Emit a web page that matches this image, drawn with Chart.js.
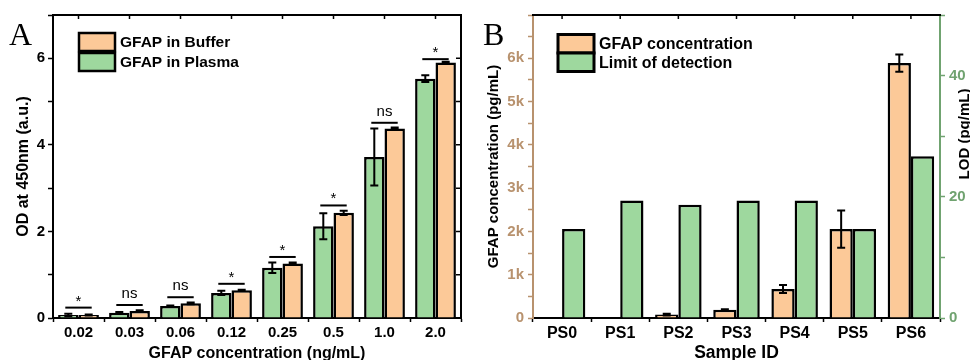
<!DOCTYPE html>
<html>
<head>
<meta charset="utf-8">
<title>GFAP ELISA</title>
<script src="https://cdn.jsdelivr.net/npm/chart.js@4"></script>
<style>
  html, body { margin: 0; padding: 0; background: #fff; }
  #wrap { position: relative; width: 970px; height: 360px; overflow: hidden; }
  #chartA { position: absolute; left: 0; top: 0; }
  #chartB { position: absolute; left: 480px; top: 0; }
</style>
</head>
<body>
<div id="wrap">
  <canvas id="chartA" width="480" height="360"></canvas>
  <canvas id="chartB" width="490" height="360"></canvas>
</div>
<script>
// Panel A: OD at 450nm vs GFAP concentration
const concLabels = ['0.02', '0.03', '0.06', '0.12', '0.25', '0.5', '1.0', '2.0'];
const plasmaOD = [0.07, 0.12, 0.28, 0.58, 1.16, 2.12, 3.72, 5.53];
const plasmaErr = [0.03, 0.02, 0.01, 0.05, 0.12, 0.30, 0.66, 0.08];
const bufferOD = [0.07, 0.16, 0.34, 0.64, 1.26, 2.43, 4.38, 5.90];
const bufferErr = [0.01, 0.02, 0.02, 0.01, 0.02, 0.05, 0.02, 0.02];
const sigMarks = ['*', 'ns', 'ns', '*', '*', '*', 'ns', '*'];
const sigLevels = [0.24, 0.30, 0.48, 0.79, 1.41, 2.60, 4.51, 5.98];

// Panel B: samples
const sampleIds = ['PS0', 'PS1', 'PS2', 'PS3', 'PS4', 'PS5', 'PS6'];
const gfapConc = [0, 0, 80, 190, 670, 2055, 5890];
const gfapErr = [0, 0, 20, 15, 95, 430, 200];
const lodValues = [14.7, 19.4, 18.7, 19.4, 19.4, 14.7, 26.7];

const orange = 'rgb(252, 201, 152)';
const green = 'rgb(158, 216, 158)';
const tan = 'rgb(184, 146, 110)';
const darkGreen = 'rgb(112, 163, 112)';
const SANS = '"Liberation Sans", Arial, sans-serif';

Chart.defaults.font.family = SANS;
Chart.defaults.color = '#000';

// error bars from dataset.errorBars
const errorBarPlugin = {
    id: 'errorBars',
    afterDatasetsDraw(chart) {
        const ctx = chart.ctx;
        chart.data.datasets.forEach((ds, i) => {
            if (!ds.errorBars) return;
            const meta = chart.getDatasetMeta(i);
            const ys = chart.scales[meta.yAxisID];
            meta.data.forEach((bar, j) => {
                const e = ds.errorBars[j];
                if (!e) return;
                const v = ds.data[j];
                const y1 = ys.getPixelForValue(v + e);
                const y2 = ys.getPixelForValue(v - e);
                ctx.save();
                ctx.strokeStyle = '#000';
                ctx.lineWidth = 2;
                ctx.beginPath();
                ctx.moveTo(bar.x, y1); ctx.lineTo(bar.x, y2);
                ctx.moveTo(bar.x - 4, y1); ctx.lineTo(bar.x + 4, y1);
                ctx.moveTo(bar.x - 4, y2); ctx.lineTo(bar.x + 4, y2);
                ctx.stroke();
                ctx.restore();
            });
        });
    }
};

// significance brackets for panel A
const sigPlugin = {
    id: 'sigMarks',
    afterDatasetsDraw(chart) {
        const ctx = chart.ctx;
        const ys = chart.scales.y;
        const m0 = chart.getDatasetMeta(0), m1 = chart.getDatasetMeta(1);
        ctx.save();
        ctx.strokeStyle = '#000';
        ctx.fillStyle = '#000';
        ctx.lineWidth = 2;
        ctx.textAlign = 'center';
        ctx.textBaseline = 'alphabetic';
        ctx.font = '15px ' + SANS;
        sigMarks.forEach((mark, i) => {
            const x0 = m0.data[i].x - 3, x1 = m1.data[i].x + 3;
            const y = ys.getPixelForValue(sigLevels[i]);
            ctx.beginPath();
            ctx.moveTo(x0, y); ctx.lineTo(x1, y);
            ctx.stroke();
            ctx.fillText(mark, (x0 + x1) / 2, y - (mark === '*' ? 2 : 7));
        });
        ctx.restore();
    }
};

function legendPlugin(o) {
    return {
        id: 'boxLegend',
        afterDraw(chart) {
            const ctx = chart.ctx;
            ctx.save();
            o.order.forEach((di, k) => {
                const ds = chart.data.datasets[di];
                const y = o.y + k * o.step;
                ctx.fillStyle = ds.backgroundColor;
                ctx.fillRect(o.x, y, o.w, o.h);
                ctx.strokeStyle = '#000';
                ctx.lineWidth = o.lw;
                ctx.strokeRect(o.x, y, o.w, o.h);
                ctx.fillStyle = '#000';
                ctx.font = 'bold ' + o.size + 'px ' + SANS;
                ctx.textBaseline = 'middle';
                ctx.textAlign = 'left';
                ctx.fillText(ds.label, o.x + o.w + 5, y + o.h / 2 + 1);
            });
            ctx.restore();
        }
    };
}

// top frame line, inward ticks, panel letter
function framePlugin(o) {
    return {
        id: 'frame',
        afterDraw(chart) {
            const ctx = chart.ctx;
            const a = chart.chartArea;
            const xs = chart.scales.x;
            ctx.save();
            ctx.strokeStyle = '#000';
            ctx.lineWidth = 2;
            ctx.beginPath();
            ctx.moveTo(a.left - 1, a.top); ctx.lineTo(a.right + 1, a.top);
            if (o.rightFrame) {
                ctx.moveTo(a.right, a.top); ctx.lineTo(a.right, a.bottom);
            }
            ctx.stroke();
            ctx.lineWidth = 1.5;
            ctx.beginPath();
            xs.ticks.forEach((t, i) => {
                const x = xs.getPixelForValue(i);
                ctx.moveTo(x, a.top); ctx.lineTo(x, a.top + 4);
            });
            if (o.rightFrame) {
                chart.scales.y.ticks.forEach(t => {
                    const y = chart.scales.y.getPixelForValue(t.value);
                    ctx.moveTo(a.right, y); ctx.lineTo(a.right - 5, y);
                });
            }
            ctx.stroke();
            ctx.fillStyle = '#000';
            ctx.font = '32px "Liberation Serif", "Times New Roman", serif';
            ctx.textAlign = 'left';
            ctx.textBaseline = 'alphabetic';
            ctx.fillText(o.letter, o.lx, o.ly);
            if (o.rightTitle) {
                ctx.translate(o.rightTitle.x, o.rightTitle.y);
                ctx.rotate(-Math.PI / 2);
                ctx.font = 'bold 15px ' + SANS;
                ctx.textAlign = 'center';
                ctx.textBaseline = 'middle';
                ctx.fillText(o.rightTitle.text, 0, 0);
            }
            ctx.restore();
        }
    };
}

const barStyle = {
    borderColor: '#000',
    borderWidth: 2.5,
    barPercentage: 1.0,
    categoryPercentage: 0.8
};

new Chart(document.getElementById('chartA'), {
    type: 'bar',
    data: {
        labels: concLabels,
        datasets: [
            Object.assign({ label: 'GFAP in Plasma', data: plasmaOD, errorBars: plasmaErr, backgroundColor: green }, barStyle),
            Object.assign({ label: 'GFAP in Buffer', data: bufferOD, errorBars: bufferErr, backgroundColor: orange }, barStyle)
        ]
    },
    options: {
        responsive: false,
        animation: false,
        events: [],
        layout: { padding: { top: 15, right: 19, left: 0, bottom: 0 } },
        plugins: { legend: { display: false }, tooltip: { enabled: false } },
        scales: {
            x: {
                grid: { drawOnChartArea: false, offset: true, tickLength: 4, color: '#000', tickWidth: 1.5 },
                border: { color: '#000', width: 2 },
                ticks: { color: '#000', font: { size: 15, weight: 'bold' }, padding: 2, maxRotation: 0 },
                title: { display: true, text: 'GFAP concentration (ng/mL)', color: '#000',
                    font: { size: 16, weight: 'bold', lineHeight: 0.75 }, padding: 0 },
                afterFit: s => { s.height = 42; }
            },
            y: {
                min: 0, max: 7,
                grid: { drawOnChartArea: false, tickLength: 5, color: '#000', tickWidth: 1.5 },
                border: { color: '#000', width: 2 },
                ticks: { stepSize: 1, autoSkip: false, color: '#000', padding: 3,
                    font: { size: 15, weight: 'bold' },
                    callback: v => (v % 2 === 0 ? v : '') },
                title: { display: true, text: 'OD at 450nm (a.u.)', color: '#000',
                    font: { size: 16, weight: 'bold' }, padding: { top: 14.4, bottom: 0 } },
                afterFit: s => { s.width = 53; }
            }
        }
    },
    plugins: [errorBarPlugin, sigPlugin,
        legendPlugin({ order: [1, 0], x: 79, y: 33, w: 36, h: 18, step: 20, lw: 2.5, size: 15.5 }),
        framePlugin({ letter: 'A', lx: 9, ly: 45, rightFrame: true })]
});

new Chart(document.getElementById('chartB'), {
    type: 'bar',
    data: {
        labels: sampleIds,
        datasets: [
            Object.assign({ label: 'GFAP concentration', data: gfapConc, errorBars: gfapErr, backgroundColor: orange, yAxisID: 'y' }, barStyle),
            Object.assign({ label: 'Limit of detection', data: lodValues, backgroundColor: green, yAxisID: 'y2' }, barStyle)
        ]
    },
    options: {
        responsive: false,
        animation: false,
        events: [],
        layout: { padding: { top: 15, right: 0, left: 0, bottom: 0 } },
        plugins: { legend: { display: false }, tooltip: { enabled: false } },
        scales: {
            x: {
                grid: { drawOnChartArea: false, offset: true, tickLength: 4, color: '#000', tickWidth: 1.5 },
                border: { color: '#000', width: 2 },
                ticks: { color: '#000', font: { size: 16, weight: 'bold' }, padding: 2, maxRotation: 0 },
                title: { display: true, text: 'Sample ID', color: '#000',
                    font: { size: 17.5, weight: 'bold', lineHeight: 0.75 }, padding: 0 },
                afterFit: s => { s.height = 42; }
            },
            y: {
                min: 0, max: 7000,
                grid: { drawOnChartArea: false, tickLength: 5, color: tan, tickWidth: 1.5 },
                border: { color: tan, width: 2 },
                ticks: { stepSize: 500, autoSkip: false, color: tan, padding: 4,
                    font: { size: 15, weight: 'bold' },
                    callback: v => (v % 1000 === 0 && v < 7000 ? (v === 0 ? '0' : v / 1000 + 'k') : '') },
                title: { display: true, text: 'GFAP concentration (pg/mL)', color: '#000',
                    font: { size: 15, weight: 'bold' }, padding: { top: 5, bottom: 0 } },
                afterFit: s => { s.width = 53; }
            },
            y2: {
                position: 'right',
                min: 0, max: 50,
                grid: { drawOnChartArea: false, tickLength: 5, color: darkGreen, tickWidth: 1.5 },
                border: { color: darkGreen, width: 2 },
                ticks: { stepSize: 10, autoSkip: false, color: darkGreen, padding: 4,
                    font: { size: 15, weight: 'bold' },
                    callback: v => (v % 20 === 0 ? v : '') },
                afterFit: s => { s.width = 30; }
            }
        }
    },
    plugins: [errorBarPlugin,
        legendPlugin({ order: [0, 1], x: 78, y: 34.5, w: 36, h: 18.5, step: 18.5, lw: 3, size: 16 }),
        framePlugin({ letter: 'B', lx: 3, ly: 45, rightFrame: false,
            rightTitle: { text: 'LOD (pg/mL)', x: 485, y: 134 } })]
});
</script>
</body>
</html>
